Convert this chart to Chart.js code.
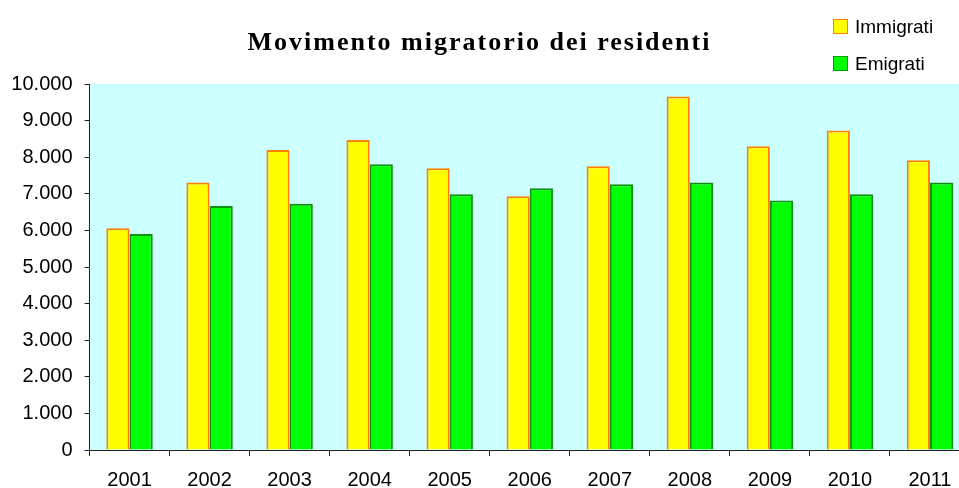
<!DOCTYPE html>
<html>
<head>
<meta charset="utf-8">
<script src="https://cdn.jsdelivr.net/npm/chart.js@4/dist/chart.umd.min.js"></script>
<style>
  html, body { margin: 0; padding: 0; background: #fff; overflow: hidden; }
  #wrap { position: relative; width: 959px; height: 488px; overflow: hidden; }
  #chart { position: absolute; left: 0; top: 0; }
  #title {
    position: absolute; left: 0; width: 959px; top: 27px; text-align: center;
    font: bold 26px "Liberation Serif", "Times New Roman", serif; letter-spacing: 2px; color: #000;
  }
  .leg { position: absolute; left: 833px; font: 19px "Liberation Sans", Arial, sans-serif; color: #000; }
  .leg span { display: inline-block; width: 13px; height: 13px; vertical-align: -1px; margin-right: 7px; }
</style>
</head>
<body>
<div id="wrap">
  <canvas id="chart" width="975" height="488"></canvas>
  <div id="title">Movimento migratorio dei residenti</div>
  <div class="leg" style="top:16px"><span style="background:#ffff00;border:1px solid #ff8000"></span>Immigrati</div>
  <div class="leg" style="top:53px"><span style="background:#00ff00;border:1px solid #009900"></span>Emigrati</div>
</div>
<script>
// ========================
// DATA
// ========================
const years = ["2001", "2002", "2003", "2004", "2005", "2006", "2007", "2008", "2009", "2010", "2011"];
const immigrati = [6060, 7310, 8200, 8470, 7700, 6930, 7750, 9660, 8300, 8730, 7920];
const emigrati = [5900, 6670, 6730, 7810, 6990, 7150, 7260, 7310, 6820, 6990, 7310];

const AXIS_COLOR = "#222";
const tickFont = { family: "'Liberation Sans', Arial, sans-serif", size: 20 };

// cyan plot background
const plotBg = {
  id: "plotBg",
  beforeDraw(chart) {
    const { ctx, chartArea: a } = chart;
    ctx.save();
    ctx.fillStyle = "#ccffff";
    ctx.fillRect(a.left, a.top, a.right - a.left, a.bottom - a.top);
    ctx.restore();
  },
};

new Chart(document.getElementById("chart").getContext("2d"), {
  type: "bar",
  data: {
    labels: years,
    datasets: [
      { label: "Immigrati", data: immigrati, backgroundColor: "#ffff00", borderColor: "#ff8000", borderWidth: 2 },
      { label: "Emigrati", data: emigrati, backgroundColor: "#00ff00", borderColor: "#109010", borderWidth: 2 },
    ],
  },
  options: {
    responsive: false,
    animation: false,
    layout: { padding: { top: 84, left: 0, right: 5, bottom: 0 } },
    datasets: { bar: { categoryPercentage: 0.58, barPercentage: 1 } },
    plugins: { legend: { display: false }, title: { display: false }, tooltip: { enabled: false } },
    scales: {
      x: {
        grid: { drawOnChartArea: false, drawTicks: true, tickLength: 6, color: AXIS_COLOR, offset: true },
        border: { color: AXIS_COLOR, width: 1 },
        ticks: { color: "#000", font: tickFont, padding: 12, maxRotation: 0 },
        afterFit: (s) => { s.height = 38; },
      },
      y: {
        min: 0,
        max: 10000,
        grid: { drawOnChartArea: false, drawTicks: true, tickLength: 5, color: AXIS_COLOR },
        border: { color: AXIS_COLOR, width: 1 },
        ticks: {
          stepSize: 1000,
          color: "#000",
          font: tickFont,
          padding: 12,
          callback: (v) => String(v).replace(/(\d)(?=(\d{3})+$)/g, "$1."),
        },
        afterFit: (s) => { s.width = 89.5; },
      },
    },
  },
  plugins: [plotBg],
});
</script>
</body>
</html>
